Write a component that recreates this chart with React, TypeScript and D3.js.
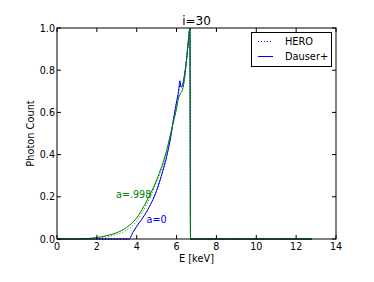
import React from "react";
import * as d3 from "d3";

const energies = [0, 1.0, 1.5, 2.0, 2.5, 3.0, 3.5, 4.0, 4.5, 5.0, 5.5, 5.8, 6.0, 6.1, 6.2, 6.3, 6.4, 6.5, 6.6, 6.67, 6.7, 12.8];
const greenDauser = [0, 0, 0.002, 0.007, 0.016, 0.03, 0.055, 0.1, 0.18, 0.28, 0.42, 0.54, 0.62, 0.67, 0.69, 0.71, 0.76, 0.85, 0.95, 1.0, 0, 0];
const greenHero = [0, 0, 0.001, 0.004, 0.011, 0.022, 0.043, 0.085, 0.165, 0.27, 0.41, 0.535, 0.62, 0.67, 0.69, 0.71, 0.76, 0.85, 0.95, 1.0, 0, 0];

const blueEnergies = [0, 3.62, 3.8, 4.0, 4.5, 5.0, 5.3, 5.5, 5.7, 5.85, 6.0, 6.1, 6.17, 6.22, 6.3, 6.4, 6.5, 6.6, 6.67, 6.7, 12.8];
const blueDauser = [0, 0, 0.03, 0.06, 0.13, 0.23, 0.32, 0.39, 0.48, 0.57, 0.65, 0.7, 0.75, 0.72, 0.73, 0.78, 0.85, 0.94, 1.0, 0, 0];
const blueHero = [0, 0, 0.03, 0.06, 0.13, 0.23, 0.32, 0.39, 0.48, 0.57, 0.65, 0.69, 0.73, 0.72, 0.73, 0.78, 0.85, 0.94, 1.0, 0, 0];

const xTicks = [0, 2, 4, 6, 8, 10, 12, 14];
const yTicks = [0, 0.2, 0.4, 0.6, 0.8, 1.0];

const W = 374, H = 282;
const L = 57, R = 336, T = 28, B = 239;
const FONT = "DejaVu Sans";
const BLUE = "#0000ff";
const GREEN = "#008000";

export default function App() {
  const x = d3.scaleLinear().domain([0, 14]).range([L, R]);
  const y = d3.scaleLinear().domain([0, 1]).range([B, T]);
  const mk = (es: number[], vs: number[]) =>
    d3.line<number>().x((_, i) => x(es[i])).y((v) => y(v)).curve(d3.curveMonotoneX)(vs) || "";

  return (
    <svg width={W} height={H} style={{ position: "absolute", left: 0, top: 0, background: "#fff" }} fontFamily={FONT}>
      <rect x={0} y={0} width={W} height={H} fill="#fff" />
      <defs>
        <clipPath id="clip">
          <rect x={L} y={T - 1} width={R - L} height={B - T + 2} />
        </clipPath>
      </defs>
      <g clipPath="url(#clip)">
        <path d={mk(blueEnergies, blueHero)} fill="none" stroke={BLUE} strokeWidth={1} strokeDasharray="1,2" />
        <path d={mk(blueEnergies, blueDauser)} fill="none" stroke={BLUE} strokeWidth={1} />
        <path d={mk(energies, greenHero)} fill="none" stroke={GREEN} strokeWidth={1} strokeDasharray="1,2" />
        <path d={mk(energies, greenDauser)} fill="none" stroke={GREEN} strokeWidth={1} />
      </g>
      <rect x={L} y={T} width={R - L} height={B - T} fill="none" stroke="#000" strokeWidth={1} />
      {xTicks.map((t) => (
        <g key={"x" + t}>
          <line x1={x(t)} x2={x(t)} y1={B} y2={B - 4} stroke="#000" />
          <line x1={x(t)} x2={x(t)} y1={T} y2={T + 4} stroke="#000" />
          <text x={x(t)} y={250} fontSize={9.6} textAnchor="middle">{t}</text>
        </g>
      ))}
      {yTicks.map((t) => (
        <g key={"y" + t}>
          <line x1={L} x2={L + 4} y1={y(t)} y2={y(t)} stroke="#000" />
          <line x1={R} x2={R - 4} y1={y(t)} y2={y(t)} stroke="#000" />
          <text x={55} y={y(t) + 3.5} fontSize={9.6} textAnchor="end">{t.toFixed(1)}</text>
        </g>
      ))}
      <text x={(L + R) / 2} y={25} fontSize={12} textAnchor="middle">i=30</text>
      <text x={(L + R) / 2} y={262} fontSize={9.8} textAnchor="middle">E [keV]</text>
      <text transform={`translate(34,${(T + B) / 2}) rotate(-90)`} fontSize={9.8} textAnchor="middle">Photon Count</text>
      <text x={116} y={197.5} fontSize={9.6} fill={GREEN}>a=.998</text>
      <text x={146.5} y={222.5} fontSize={9.6} fill={BLUE}>a=0</text>
      <rect x={251.5} y={32.5} width={80} height={34} fill="#fff" stroke="#000" strokeWidth={1} />
      <line x1={258} x2={273} y1={41.5} y2={41.5} stroke={BLUE} strokeWidth={1} strokeDasharray="1,2" />
      <line x1={258} x2={273} y1={56.5} y2={56.5} stroke={BLUE} strokeWidth={1} />
      <text x={285} y={45} fontSize={9.8}>HERO</text>
      <text x={285} y={60} fontSize={9.8}>Dauser+</text>
    </svg>
  );
}
